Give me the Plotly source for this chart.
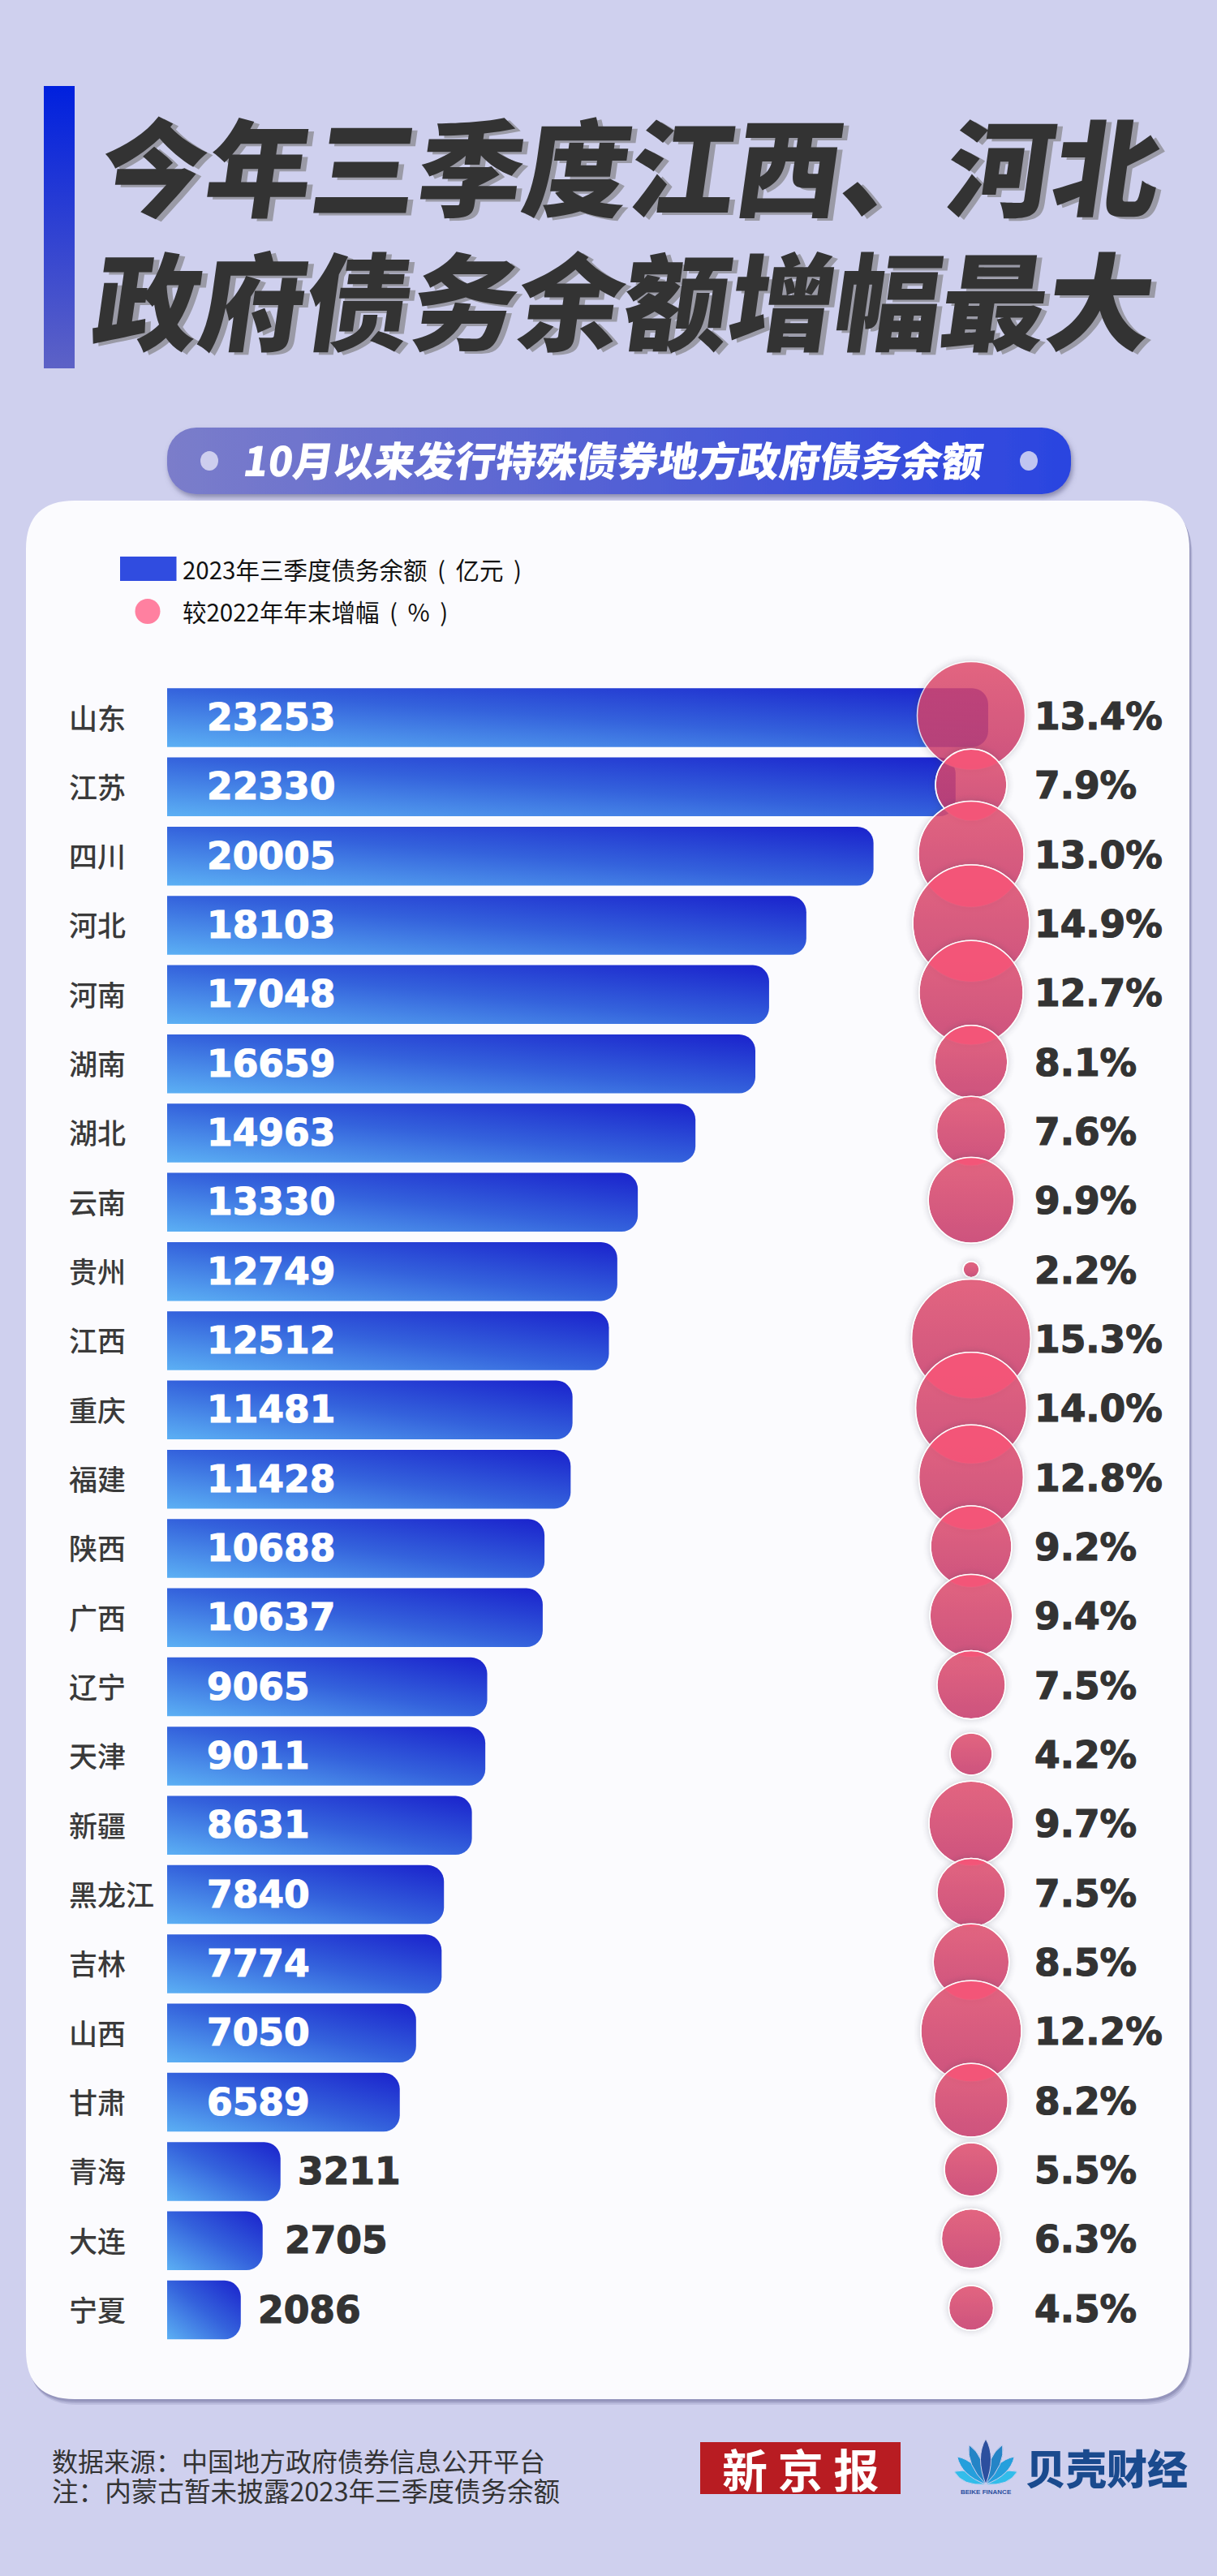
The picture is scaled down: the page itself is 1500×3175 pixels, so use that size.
import base64, math
import numpy as np
import plotly.graph_objects as go

# ---------- data ----------
provinces = ["山东","江苏","四川","河北","河南","湖南","湖北","云南","贵州","江西","重庆","福建",
             "陕西","广西","辽宁","天津","新疆","黑龙江","吉林","山西","甘肃","青海","大连","宁夏"]
debt = [23253,22330,20005,18103,17048,16659,14963,13330,12749,12512,11481,11428,
        10688,10637,9065,9011,8631,7840,7774,7050,6589,3211,2705,2086]
growth = [13.4,7.9,13.0,14.9,12.7,8.1,7.6,9.9,2.2,15.3,14.0,12.8,
          9.2,9.4,7.5,4.2,9.7,7.5,8.5,12.2,8.2,5.5,6.3,4.5]
title_lines = ["今年三季度江西、河北", "政府债务余额增幅最大"]
subtitle = "10月以来发行特殊债券地方政府债务余额"
legend_bar = "2023年三季度债务余额\u00a0\u2009(\u00a0\u2009亿元\u00a0\u2009)"
legend_dot = "较2022年年末增幅\u00a0\u2009(\u00a0\u2009%\u00a0\u2009)"
notes = ["数据来源：中国地方政府债券信息公开平台", "注：内蒙古暂未披露2023年三季度债务余额"]

# ---------- geometry ----------
W, H = 1500, 3175
BAR_X0, PX_PER_UNIT = 206, 0.04352
ROW0, PITCH, BAR_H = 884.5, 85.33, 72.5
BUBBLE_PX, BUBBLE_LIFT = 1197, 2.5
CJK = "Noto Sans CJK SC"
NUM = "DejaVu Sans"
DARK = "#333333"
BG = "#cfd0ee"

def px(x): return x / W
def py(y): return 1 - y / H
def data_x(p): return (p - BAR_X0) / PX_PER_UNIT

def rrect(x0, y0, x1, y1, r):
    pts = [("M", x0 + r, y0), ("L", x1 - r, y0), ("Q", x1, y0, x1, y0 + r), ("L", x1, y1 - r),
           ("Q", x1, y1, x1 - r, y1), ("L", x0 + r, y1), ("Q", x0, y1, x0, y1 - r), ("L", x0, y0 + r),
           ("Q", x0, y0, x0 + r, y0)]
    out = ""
    for p in pts:
        out += p[0] + " " + " ".join(
            f"{px(v) if i % 2 == 0 else py(v):.6f}" for i, v in enumerate(p[1:])) + " "
    return out + "Z"

def svg_image(svg, x0, y0, x1, y1):
    uri = "data:image/svg+xml;base64," + base64.b64encode(svg.encode()).decode()
    return dict(source=uri, xref="paper", yref="paper", x=px(x0), y=py(y0), sizex=(x1 - x0) / W,
                sizey=(y1 - y0) / H, sizing="stretch", xanchor="left", yanchor="top", layer="below")

# growth -> bubble diameter scale
size_stops_v = [2.2, 4.2, 5.5, 7.9, 9.2, 12.8, 14.0, 15.3]
size_stops_d = [20, 52, 66, 88, 100, 129, 137, 147]
diam = np.interp(growth, size_stops_v, size_stops_d)

fig = go.Figure()
fig.add_bar(y=provinces, x=debt, orientation="h", name="2023年三季度债务余额（亿元）",
            marker=dict(color="#3568dd", line=dict(width=0)), showlegend=False, hoverinfo="x+y")
fig.add_scatter(y=provinces, x=[data_x(BUBBLE_PX)] * len(provinces), yaxis="y2", mode="markers",
                name="较2022年年末增幅（%）", showlegend=False, text=growth,
                marker=dict(size=diam, sizemode="diameter", color="#df4d6c", opacity=0.86,
                            gradient=dict(type="vertical", color="#c6386a"),
                            line=dict(color="rgba(255,255,255,0.95)", width=1.5)))

ann = []
def text(t, x, y, size, color=DARK, family=CJK, weight=400, anchor="left", shadow="none",
         xref="paper", yref="paper", xshift=0, yshift=0):
    ann.append(dict(text=t, x=x, y=y, xref=xref, yref=yref, xanchor=anchor, yanchor="middle", showarrow=False,
                    xshift=xshift, yshift=yshift,
                    font=dict(size=size, color=color, family=family, weight=weight, shadow=shadow)))

# title / subtitle
text(title_lines[0], px(778), py(201), 130.5, "#333333", weight=900, anchor="center", shadow="7px 3px 0 #9a9aa6")
text(title_lines[1], px(770), py(366), 130.5, "#333333", weight=900, anchor="center", shadow="7px 3px 0 #9a9aa6")
text(subtitle, px(756), py(565), 50, "#ffffff", weight=900, anchor="center")

# legend
text(legend_bar, px(223), py(701), 29.5, "#111111")
text(legend_dot, px(223), py(753), 29.5, "#111111")

# rows
LABEL_NUDGE = {"大连": 6}
for p, d, g in zip(provinces, debt, growth):
    text(p, px(83), p, 35, "#3a3a3a", yref="y", weight=500, yshift=1.5)
    if d > 5000:
        text(str(d), 0, p, 45.5, "#ffffff", NUM, 700, xref="x", yref="y", xshift=47)
    else:
        text(str(d), d, p, 45.5, DARK, NUM, 700, xref="x", yref="y", xshift=19 + LABEL_NUDGE.get(p, 0))
    text(f"{g:.1f}%", px(1273), p, 45.5, DARK, NUM, 700, yref="y", yshift=1)

# footer
text(notes[0], px(62), py(3032), 32, "#333333")
text(notes[1], px(62), py(3068), 32.6, "#333333")
text("新 京 报", px(986), py(3041), 56, "#ffffff", "Noto Sans CJK SC", 700, anchor="center")
text("贝壳财经", px(1262), py(3040), 50, "#1a4a8e", CJK, 900)
text("BEIKE FINANCE", px(1215), py(3071), 8, "#2c4f9e", "Liberation Sans", 700, anchor="center")

# decoration
shapes = []
for off, op in ((7, .18), (5, .25), (3, .35)):
    shapes.append(dict(type="path", path=rrect(32 + off / 2, 617 + off, 1466 + off / 2, 2957 + off, 60),
                       fillcolor="#70709a", opacity=op, line_width=0, layer="below", xref="paper", yref="paper"))
shapes.append(dict(type="path", path=rrect(32, 617, 1466, 2957, 60), fillcolor="#fbfbfe", line_width=0,
                   layer="below", xref="paper", yref="paper"))
# legend glyphs
shapes.append(dict(type="rect", xref="paper", yref="paper", x0=px(148), x1=px(217.5), y0=py(686), y1=py(716),
                   fillcolor="#304ce0", line_width=0, layer="below"))
shapes.append(dict(type="circle", xref="paper", yref="paper", x0=px(166.5), x1=px(197.5), y0=py(738), y1=py(769),
                   fillcolor="#ff80a0", line_width=0, layer="below"))
# pill dots
for cx in (258, 1268):
    shapes.append(dict(type="circle", xref="paper", yref="paper", x0=px(cx - 11), x1=px(cx + 11), y0=py(556),
                       y1=py(580), fillcolor="rgba(225,225,245,0.82)", line_width=0))
# logos
shapes.append(dict(type="rect", xref="paper", yref="paper", x0=px(863), x1=px(1110), y0=py(3010), y1=py(3074),
                   fillcolor="#b81c22", line_width=0, layer="below"))
for ang, ln, c in ((-68, 42, "#33bdea"), (68, 42, "#33bdea"), (-46, 49, "#259fdc"), (46, 49, "#259fdc"),
                   (-23, 53, "#2484c6"), (23, 53, "#2484c6"), (0, 56, "#2c4f9e")):
    a = math.radians(ang)
    bx, by = 1215, 3062
    tx, ty = bx + ln * math.sin(a), by - ln * math.cos(a)
    nx, ny = math.cos(a) * 13, math.sin(a) * 13
    mx, my = bx + ln * .6 * math.sin(a), by - ln * .6 * math.cos(a)
    pth = (f"M {px(bx):.6f} {py(by):.6f} Q {px(mx - nx):.6f} {py(my - ny):.6f} {px(tx):.6f} {py(ty):.6f} "
           f"Q {px(mx + nx):.6f} {py(my + ny):.6f} {px(bx):.6f} {py(by):.6f} Z")
    shapes.append(dict(type="path", path=pth, fillcolor=c, line=dict(color=BG, width=1), xref="paper",
                       yref="paper", layer="below"))

rail_svg = ('<svg xmlns="http://www.w3.org/2000/svg" width="38" height="348"><defs><linearGradient id="g" x1="0" y1="0" '
            'x2="0" y2="1"><stop offset="0" stop-color="#0020de"/><stop offset="1" stop-color="#5d62c6"/>'
            '</linearGradient></defs><rect width="38" height="348" fill="url(#g)"/></svg>')
pill_svg = ('<svg xmlns="http://www.w3.org/2000/svg" width="1134" height="102"><defs><linearGradient id="g" x1="0" y1="0" '
            'x2="1" y2="0"><stop offset="0" stop-color="#7b7dca"/><stop offset="1" stop-color="#2a44e0"/>'
            '</linearGradient><filter id="s" x="-5%" y="-20%" width="110%" height="150%"><feDropShadow dx="2" dy="4" '
            'stdDeviation="3" flood-color="#50507a" flood-opacity=".55"/></filter></defs>'
            '<rect x="10" y="4" width="1114" height="82" rx="36" fill="url(#g)" filter="url(#s)"/></svg>')
images = [svg_image(rail_svg, 54, 106, 92, 454), svg_image(pill_svg, 196, 523, 1330, 625)]

fig.update_layout(
    width=W, height=H, margin=dict(l=0, r=0, t=0, b=0), autosize=False,
    paper_bgcolor=BG, plot_bgcolor="rgba(0,0,0,0)", showlegend=False,
    font=dict(family=CJK), bargap=1 - BAR_H / PITCH, barcornerradius=20,
    xaxis=dict(range=[data_x(0), data_x(W)], visible=False, fixedrange=True),
    yaxis=dict(type="category", categoryorder="array", categoryarray=provinces,
               range=[(H - ROW0) / PITCH, -ROW0 / PITCH], visible=False, fixedrange=True),
    yaxis2=dict(type="category", categoryorder="array", categoryarray=provinces, overlaying="y",
                range=[(H - ROW0 + BUBBLE_LIFT) / PITCH, (-ROW0 + BUBBLE_LIFT) / PITCH],
                visible=False, fixedrange=True),
    annotations=ann, shapes=shapes, images=images,
)

post = """
document.body.style.margin='0';document.documentElement.style.overflow='hidden';
var gd=document.querySelector('.js-plotly-plot');
var svg=gd.querySelector('svg.main-svg');var NS='http://www.w3.org/2000/svg';
var defs=svg.querySelector('defs');
var lg=document.createElementNS(NS,'linearGradient');lg.setAttribute('id','barGrad');
lg.setAttribute('x1','0');lg.setAttribute('y1','1');lg.setAttribute('x2','1');lg.setAttribute('y2','0');
[['0','#5cb0f4'],['0.5','#3462dc'],['1','#1a22cc']].forEach(function(s){var e=document.createElementNS(NS,'stop');
e.setAttribute('offset',s[0]);e.setAttribute('stop-color',s[1]);lg.appendChild(e);});defs.appendChild(lg);
gd.querySelectorAll('.barlayer .point path').forEach(function(p){p.style.fill='url(#barGrad)';});
var pts=Array.prototype.slice.call(gd.querySelectorAll('.scatterlayer .points path'));
pts.forEach(function(p){p.style.filter='drop-shadow(0 0 4px rgba(60,60,80,.3))';});
for(var i=0;i<pts.length-1;i++){
  var cp=document.createElementNS(NS,'clipPath');cp.setAttribute('id','lensClip'+i);
  var c0=pts[i].cloneNode(false);c0.removeAttribute('style');cp.appendChild(c0);defs.appendChild(cp);
  var wrap=document.createElementNS(NS,'g');wrap.setAttribute('clip-path','url(#lensClip'+i+')');
  wrap.style.pointerEvents='none';
  var lens=pts[i+1].cloneNode(false);lens.removeAttribute('style');
  lens.setAttribute('style','fill:#f6567a;fill-opacity:.88;stroke:none');wrap.appendChild(lens);
  pts[i+1].parentNode.insertBefore(wrap,pts[i+1].nextSibling);
  var rim=pts[i+1].cloneNode(false);rim.setAttribute('style','fill:none;stroke:rgba(255,255,255,.95);stroke-width:1.5px');
  wrap.parentNode.insertBefore(rim,wrap.nextSibling);
}
gd.querySelectorAll('.annotation-text').forEach(function(t){
  var s=t.textContent;var fam=t.style.fontFamily||'';
  if(fam.indexOf('DejaVu')>=0){t.style.stroke=t.style.fill;t.style.strokeWidth='1.2px';}
  if(s.indexOf('今年三季度')==0||s.indexOf('政府债务')==0||s.indexOf('10月以来')==0){
    t.style.transformBox='fill-box';t.style.transformOrigin='center';t.style.transform='skewX(-8deg)';
  }
});
"""
fig.write_html("out.html", post_script=post, config={"displayModeBar": False})
